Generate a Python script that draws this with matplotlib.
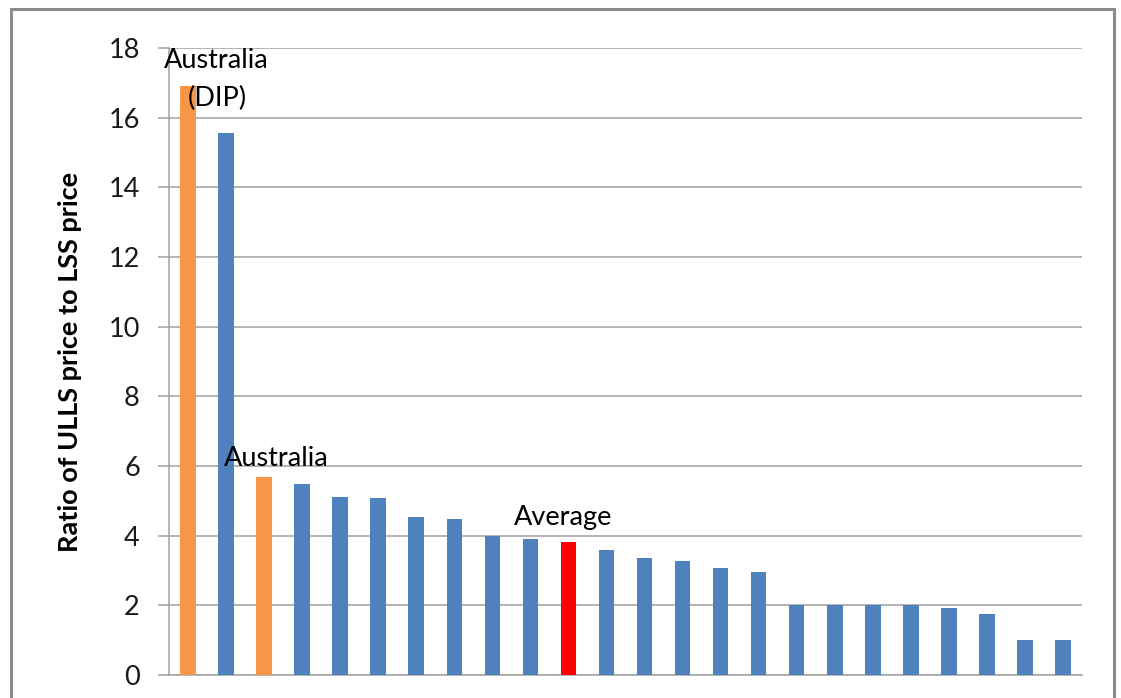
import matplotlib.pyplot as plt
import matplotlib.patches as patches

# Ratio of ULLS price to LSS price, one bar per country (sorted)
values = [16.9, 15.56, 5.67, 5.47, 5.12, 5.08, 4.54, 4.48, 3.99, 3.9,
          3.81, 3.59, 3.37, 3.26, 3.08, 2.96, 2.0, 2.0, 2.0, 2.0,
          1.93, 1.76, 1.0, 1.0]
# which bars are highlighted
kinds = ['aus', 'other', 'aus', 'other', 'other', 'other', 'other', 'other',
         'other', 'other', 'avg', 'other', 'other', 'other', 'other', 'other',
         'other', 'other', 'other', 'other', 'other', 'other', 'other', 'other']
y_ticks = [0, 2, 4, 6, 8, 10, 12, 14, 16, 18]
y_label = 'Ratio of ULLS price to LSS price'

colours = {'aus': '#F79646', 'other': '#4F81BD', 'avg': '#FF0000'}
grid_col = '#A0A0A0'

plt.rcParams['font.family'] = ['Lato', 'DejaVu Sans']

fig = plt.figure(figsize=(11.21, 6.98), dpi=100)
ax = fig.add_axes([169 / 1121, 1 - 675 / 698, 913 / 1121, 627 / 698])

x = list(range(len(values)))
ax.bar(x, values, width=0.41, color=[colours[k] for k in kinds], zorder=3)

ax.set_xlim(-0.5, len(values) - 0.5)
ax.set_ylim(0, 18)
ax.set_yticks(y_ticks)
ax.set_xticks([])
ax.grid(axis='y', color=grid_col, linewidth=1.1, zorder=0)
ax.tick_params(axis='y', length=8, width=1.1, color=grid_col, labelsize=19.5,
               pad=13, labelcolor='#1a1a1a')
for side in ['top', 'right']:
    ax.spines[side].set_visible(False)
for side in ['left', 'bottom']:
    ax.spines[side].set_color(grid_col)
    ax.spines[side].set_linewidth(1.1)

# labels on the bars
ax.text(0.75, 17.44, 'Australia', ha='center', va='baseline', fontsize=19.5, zorder=4)
ax.text(0.76, 16.34, '(DIP)', ha='center', va='baseline', fontsize=19.5, zorder=4)
ax.text(2.33, 6.0, 'Australia', ha='center', va='baseline', fontsize=19.5, zorder=4)
ax.text(9.85, 4.31, 'Average', ha='center', va='baseline', fontsize=19.5, zorder=4)

fig.text(70 / 1121, 1 - 362 / 698, y_label, rotation=90, ha='center',
         va='center', fontsize=19.5, fontweight='bold')

# outer chart frame
frame = patches.Rectangle((11 / 1121, -0.02), 1103 / 1121, 1 - 9 / 698 + 0.02,
                          transform=fig.transFigure, fill=False,
                          edgecolor='#8C8C8C', linewidth=2.2)
fig.patches.append(frame)

fig.savefig('out.png', dpi=100)
